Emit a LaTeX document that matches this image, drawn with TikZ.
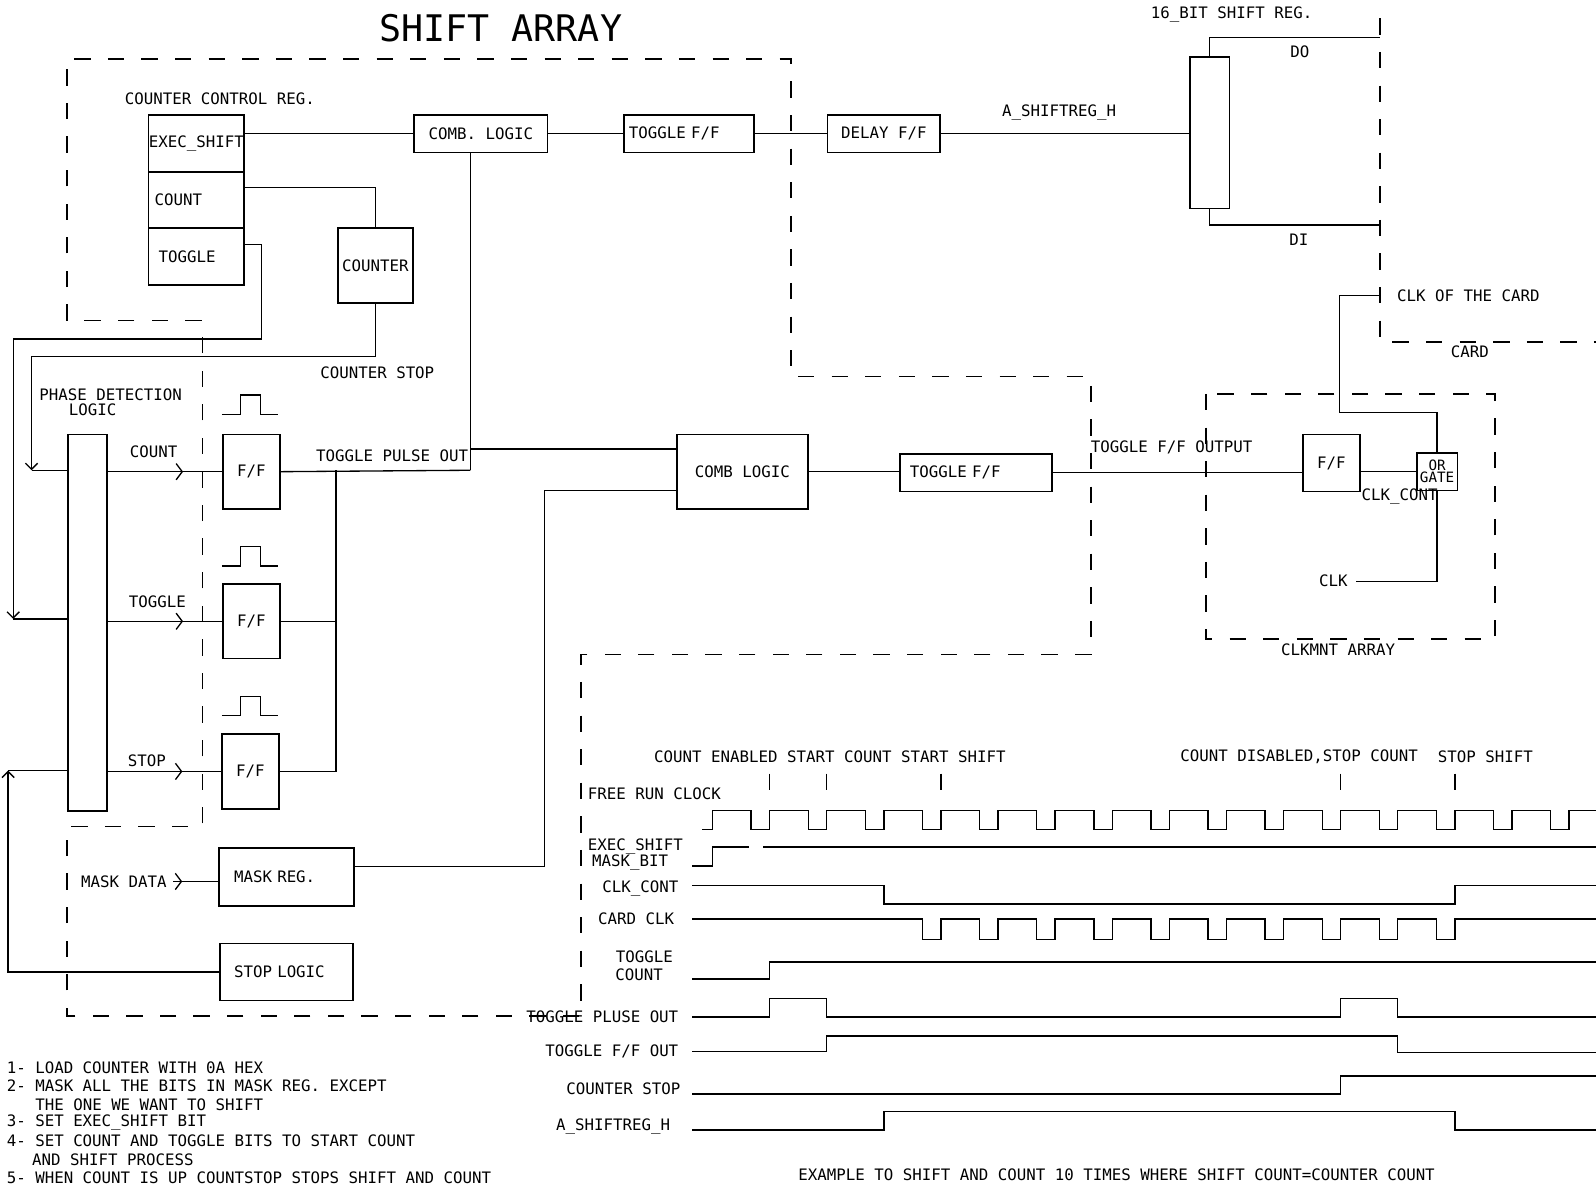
\documentclass[tikz,border=0pt]{standalone}
\usepackage{fontspec}
\setmainfont{DejaVu Sans Mono}
\usetikzlibrary{arrows.meta,decorations.markings,calc}
\newcommand{\fsz}{\fontsize{15.5}{18}\selectfont}
\begin{document}
\begin{tikzpicture}[x=1pt,y=-1pt,
  line width=1.3pt,
  box/.style={draw,line width=1.8pt,inner sep=0pt,font=\fsz,anchor=north west},
  lbl/.style={inner sep=0pt,font=\fsz},
  dsh/.style={line width=1.5pt,dash pattern=on 16pt off 17pt},
  cornerarr/.style={-{Straight Barb[length=6pt,width=12pt]}},
  chev/.style={postaction={decorate},decoration={markings,mark=at position #1 with {\arrow{Straight Barb[length=6pt,width=16pt]}}}},
  wave/.style={line width=1.4pt}
]
\fill[white] (0,0) rectangle (1568,1167);
\useasboundingbox (0,0) rectangle (1568,1167);

% title
\node[lbl,font=\fontsize{36}{40}\selectfont] (title) at (492,28) {SHIFT ARRAY};

% dashed outlines
\draw[dsh] (66,315) -- (66,58) -- (777,58) -- (777,370) -- (1072,370) -- (1072,643) -- (571,643) -- (571,998) -- (66,998) -- (66,812) -- (199,812) -- (199,315) -- cycle;
\draw[dsh] (1356,18) -- (1356,336) -- (1568,336);
\draw[dsh] (1185,387) rectangle (1469,628);

% boxes
\node[box,minimum width=94pt,minimum height=56pt,align=center] (exec) at (145,112) {EXEC\_SHIFT};
\node[box,minimum width=94pt,minimum height=55pt,text width=82pt,align=left] (cnt) at (145,168) {COUNT};
\node[box,minimum width=94pt,minimum height=56pt,text width=74pt,align=left] (tgl) at (145,223) {TOGGLE};
\node[box,minimum width=74pt,minimum height=74pt,align=center] (counter) at (331,223) {COUNTER};
\node[box,minimum width=131pt,minimum height=37pt,align=center] (comb1) at (406,112) {COMB. LOGIC};
\node[box,minimum width=128pt,minimum height=37pt,text width=118pt,align=left] (tff1) at (612,112) {TOGGLE F/F};
\node[box,minimum width=111pt,minimum height=37pt,align=center] (delay) at (812,112) {DELAY F/F};
\node[box,minimum width=39pt,minimum height=149pt] (sreg) at (1168,55) {};
\node[box,minimum width=38pt,minimum height=370pt] (bar) at (66,426) {};
\node[box,minimum width=56pt,minimum height=73pt] (ff1) at (218,426) {F/F};
\node[box,minimum width=56pt,minimum height=73pt] (ff2) at (218,573) {F/F};
\node[box,minimum width=56pt,minimum height=74pt] (ff3) at (217,720) {F/F};
\node[box,minimum width=133pt,minimum height=57pt,text width=103pt,align=left] (maskreg) at (214,832) {MASK REG.};
\node[box,minimum width=131pt,minimum height=56pt,text width=103pt,align=left] (stoplogic) at (215,926) {STOP LOGIC};
\node[box,minimum width=129pt,minimum height=73pt,align=center] (comb2) at (664,426) {COMB LOGIC};
\node[box,minimum width=150pt,minimum height=37pt,text width=130pt,align=left] (tff2) at (883,445) {TOGGLE F/F};
\node[box,minimum width=56pt,minimum height=56pt] (ff4) at (1279,426) {F/F};
\node[box,minimum width=40pt,minimum height=37pt,align=center,font=\fontsize{14}{10}\selectfont] (orgate) at (1391,444) {OR\\GATE};

% labels
\node[lbl,anchor=west] (ccrlbl) at (122,97) {COUNTER CONTROL REG.};
\node[lbl,anchor=west] (sreglbl) at (1130,14) {16\_BIT SHIFT REG.};
\node[lbl] (dolbl) at (1277,51) {DO};
\node[lbl] (dilbl) at (1276,236) {DI};
\node[lbl,anchor=west] (ashlbl) at (984,111) {A\_SHIFTREG\_H};
\node[lbl,anchor=west] (clkcard) at (1372,291) {CLK OF THE CARD};
\node[lbl] (cardlbl) at (1444,346) {CARD};
\node[lbl,anchor=west] (cstoplbl) at (314,366) {COUNTER STOP};
\node[lbl,anchor=west] (pdl1) at (38,388) {PHASE DETECTION};
\node[lbl,anchor=west] (pdl2) at (67,403) {LOGIC};
\node[lbl,anchor=west] (countlbl) at (127,444) {COUNT};
\node[lbl,anchor=west] (togglelbl) at (126,591) {TOGGLE};
\node[lbl,anchor=west] (stoplbl) at (125,747) {STOP};
\node[lbl,anchor=west] (tpolbl) at (310,448) {TOGGLE PULSE OUT};
\node[lbl,anchor=west] (tffolbl) at (1071,440) {TOGGLE F/F OUTPUT};
\node[lbl,anchor=west] (clkcontlbl) at (1337,488) {CLK\_CONT};
\node[lbl] (clk) at (1310,571) {CLK};
\node[lbl,anchor=west] (clkmnt) at (1258,638) {CLKMNT ARRAY};
\node[lbl,anchor=west] (maskdata) at (79,866) {MASK DATA};

% pulse icons
\foreach \yy in {388,537,684}{
  \draw (218,\yy+19) -- (236,\yy+19) -- (236,\yy) -- (256,\yy) -- (256,\yy+19) -- (273,\yy+19);
}

% connectors top
\draw (exec.east |- comb1.west) -- (comb1.west);
\draw (comb1.east) -- (tff1.west);
\draw (tff1.east) -- (delay.west);
\draw (delay.east) -- (delay.east -| sreg.west);
\coordinate (do) at (1356,37);
\coordinate (di) at (1356,221);
\draw (sreg.north) |- (do);
\draw (sreg.south) |- (di);
\draw ($(cnt.north east)+(0,16)$) -| (counter.north);

% toggle feedback
\coordinate (tgA) at (257,333);
\coordinate (tgB) at (13,608);
\draw[cornerarr] ($(tgl.north east)+(0,17)$) -| (tgA) -| (tgB);
\draw (tgB) -- (tgB -| bar.west);
% counter stop feedback
\coordinate (csA) at (31,350);
\coordinate (csB) at (31,462);
\draw[cornerarr] (counter.south) |- (csA) -- (csB);
\draw (csB) -- (csB -| bar.west);
% stop logic feedback
\coordinate (slA) at (8,757);
\draw[cornerarr] (stoplogic.west) -| (slA);
\draw (slA) -- (slA -| bar.west);

% phase detection outputs
\draw[chev=0.66] (bar.east |- ff1.west) -- (ff1.west);
\draw[chev=0.66] (bar.east |- ff2.west) -- (ff2.west);
\draw[chev=0.66] (bar.east |- ff3.west) -- (ff3.west);

% toggle pulse out
\coordinate (tpo) at (462,462);
\coordinate (tpoB) at (462,441);
\coordinate (orA) at (330,462);
\draw (tpo |- comb1.south) -- (tpo);
\draw (ff1.east) -- (tpo);
\draw (tpoB) -- (tpoB -| comb2.west);
\draw (ff3.east) -| (orA);
\draw (ff2.east) -- (ff2.east -| orA);

% mask reg
\coordinate (mA) at (535,482);
\draw ($(maskreg.north east)+(0,19)$) -| (mA) -- (mA -| comb2.west);
\draw[chev=0.2] ([xshift=6pt]maskdata.east) -- (maskreg.west |- maskdata.east);

% middle chain
\draw (comb2.east) -- (comb2.east -| tff2.west);
\draw (tff2.east) -- (tff2.east -| ff4.west);
\draw (orgate.west -| ff4.east) -- (orgate.west);
\draw ([xshift=8pt]clk.east) -| (orgate.south);
\coordinate (ogA) at (1316,405);
\coordinate (cardclk) at (1356,290);
\draw (orgate.north) |- (ogA) |- (cardclk);

% timing labels
\node[lbl,anchor=west] (evl1) at (642,743) {COUNT ENABLED START COUNT START SHIFT};
\node[lbl,anchor=west] (evl2) at (1159,743) {COUNT DISABLED,STOP COUNT};
\node[lbl,anchor=west] (evl3) at (1412,743) {STOP SHIFT};
\foreach \xx in {756.1,812.2,924.4,1317.1,1429.3}{
  \draw (\xx,760) -- (\xx,776);
}
\node[lbl,anchor=west] (frc) at (577,780) {FREE RUN CLOCK};
\node[lbl,anchor=west] (exl) at (577,832) {EXEC\_SHIFT};
\node[lbl,anchor=west] (mbl) at (581,847) {MASK\_BIT};
\node[lbl,anchor=east] (ccl) at (667,873) {CLK\_CONT};
\node[lbl,anchor=east] (cdl) at (663,903) {CARD CLK};
\node[lbl] (tcl1) at (633,940) {TOGGLE};
\node[lbl] (tcl2) at (628,958) {COUNT};
\node[lbl,anchor=east] (tpl) at (667,999) {TOGGLE PLUSE OUT};
\node[lbl,anchor=east] (tfl) at (667,1033) {TOGGLE F/F OUT};
\node[lbl,anchor=east] (csl) at (669,1070) {COUNTER STOP};
\node[lbl,anchor=east] (asl) at (659,1107) {A\_SHIFTREG\_H};

% waveforms
\draw[wave] (690,815) \foreach \k in {0,...,14} { -- ({700+56.1*\k},815) -- ({700+56.1*\k},796) -- ({738+56.1*\k},796) -- ({738+56.1*\k},815) } -- (1541.5,815) -- (1541.5,796) -- (1568,796);
\draw[wave] (680,851) -- (700,851) -- (700,832) -- (736,832);
\draw[wave] (750,832) -- (1568,832);
\draw[wave] (680,870) -- (868.3,870) -- (868.3,888) -- (1429.3,888) -- (1429.3,870) -- (1568,870);
\draw[wave] (680,903) \foreach \k in {3,...,12} { -- ({738+56.1*\k},903) -- ({738+56.1*\k},923) -- ({756.1+56.1*\k},923) -- ({756.1+56.1*\k},903) } -- (1568,903);
\draw[wave] (680,962) -- (756.1,962) -- (756.1,945) -- (1568,945);
\draw[wave] (680,999) -- (756.1,999) -- (756.1,981) -- (812.2,981) -- (812.2,999) -- (1317.1,999) -- (1317.1,981) -- (1373.2,981) -- (1373.2,999) -- (1568,999);
\draw[wave] (680,1033) -- (812.2,1033) -- (812.2,1018) -- (1373.2,1018) -- (1373.2,1034) -- (1568,1034);
\draw[wave] (680,1075) -- (1317.1,1075) -- (1317.1,1057) -- (1568,1057);
\draw[wave] (680,1110) -- (868.3,1110) -- (868.3,1092) -- (1429.3,1092) -- (1429.3,1110) -- (1568,1110);

\node[lbl] (caption) at (1097,1154) {EXAMPLE TO SHIFT AND COUNT 10 TIMES WHERE SHIFT COUNT=COUNTER COUNT};

% notes
\node[lbl,anchor=west] (n1) at (6,1049) {1- LOAD COUNTER WITH 0A HEX};
\node[lbl,anchor=west] (n2) at (6,1067) {2- MASK ALL THE BITS IN MASK REG. EXCEPT};
\node[lbl,anchor=west] (n2b) at (34,1085) {THE ONE WE WANT TO SHIFT};
\node[lbl,anchor=west] (n3) at (6,1103) {3- SET EXEC\_SHIFT BIT};
\node[lbl,anchor=west] (n4) at (6,1121) {4- SET COUNT AND TOGGLE BITS TO START COUNT};
\node[lbl,anchor=west] (n4b) at (31,1139) {AND SHIFT PROCESS};
\node[lbl,anchor=west] (n5) at (6,1157) {5- WHEN COUNT IS UP COUNTSTOP STOPS SHIFT AND COUNT};
\end{tikzpicture}
\end{document}
